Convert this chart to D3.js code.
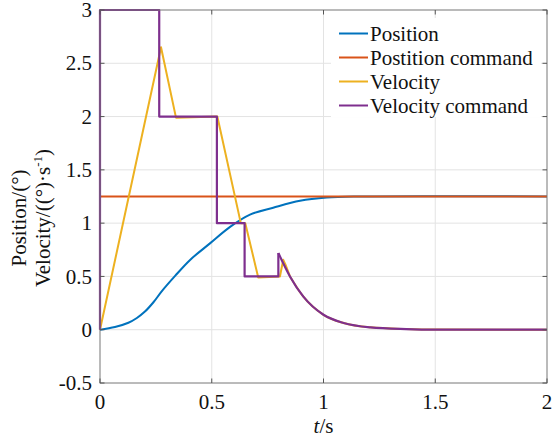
<!DOCTYPE html>
<html>
<head>
<meta charset="utf-8">
<script src="https://cdn.jsdelivr.net/npm/d3@7"></script>
<style>
  body { margin: 0; background: #fff; }
  svg { display: block; }
  svg text { font-family: "Liberation Serif", "Times New Roman", Times, Tinos, "Noto Serif", "DejaVu Serif", serif; }
</style>
</head>
<body>
<svg id="chart" width="557" height="439"></svg>
<script>
// tick values
var xTicks = [0, 0.5, 1, 1.5, 2];
var yTicks = [-0.5, 0, 0.5, 1, 1.5, 2, 2.5, 3];

// position response
var posT = [0, 0.067, 0.127, 0.165, 0.201, 0.24, 0.276, 0.336, 0.403, 0.492, 0.582, 0.671, 0.775, 0.895, 1.014, 1.15, 2];
var posV = [0, 0.025, 0.065, 0.11, 0.17, 0.26, 0.36, 0.505, 0.655, 0.81, 0.965, 1.08, 1.145, 1.21, 1.24, 1.25, 1.25];

// position command
var posCmdT = [0, 2];
var posCmdV = [1.25, 1.25];

// velocity command, stepped part
var velCmdT = [0, 0, 0.265, 0.265, 0.523, 0.523, 0.647, 0.647, 0.798, 0.798];
var velCmdV = [0, 3, 3, 2, 2, 1, 1, 0.5, 0.5, 0.72];

// decaying tail shared by velocity and velocity command
var decayT = [0.798, 0.85, 0.91, 1.0, 1.09, 1.21, 1.37, 1.5, 2];
var decayV = [0.72, 0.5, 0.31, 0.14, 0.063, 0.022, 0.006, 0.001, 0];

// velocity, before it joins the tail
var velT = [0, 0.273, 0.34, 0.525, 0.63, 0.65, 0.708, 0.805, 0.82, 0.832, 0.85];
var velV = [0, 2.65, 1.99, 2, 1, 1, 0.49, 0.5, 0.656, 0.6, 0.5];

var legendNames = ["Position", "Postition command", "Velocity", "Velocity command"];
var colors = ["#0072BD", "#D95319", "#EDB120", "#7E2F8E"];

function pts(ts, vs) {
	return ts.map(function(t, i) { return [t, vs[i]]; });
}

function draw() {
	var svg = d3.select("#chart");
	var left = 100, right = 547, top = 10, bottom = 383;

	var x = d3.scaleLinear().domain([0, 2]).range([left, right]);
	var y = d3.scaleLinear().domain([-0.5, 3]).range([bottom, top]);

	// grid
	svg.append("g").selectAll("line").data(xTicks.slice(1, -1)).enter().append("line")
		.attr("x1", function(d) { return x(d); }).attr("x2", function(d) { return x(d); })
		.attr("y1", top).attr("y2", bottom)
		.style("stroke", "#e3e3e3").style("stroke-width", 1);
	svg.append("g").selectAll("line").data(yTicks.slice(1, -1)).enter().append("line")
		.attr("y1", function(d) { return y(d); }).attr("y2", function(d) { return y(d); })
		.attr("x1", left).attr("x2", right)
		.style("stroke", "#e3e3e3").style("stroke-width", 1);

	var lin = d3.line().x(function(d) { return x(d[0]); }).y(function(d) { return y(d[1]); });
	var smooth = d3.line().curve(d3.curveMonotoneX)
		.x(function(d) { return x(d[0]); }).y(function(d) { return y(d[1]); });
	var soft = d3.line().curve(d3.curveCatmullRom.alpha(0.5))
		.x(function(d) { return x(d[0]); }).y(function(d) { return y(d[1]); });

	var g = svg.append("g").style("fill", "none").style("stroke-linejoin", "round");

	g.append("path").attr("d", soft(pts(posT, posV)))
		.style("stroke", colors[0]).style("stroke-width", 2);
	g.append("path").attr("d", lin(pts(posCmdT, posCmdV)))
		.style("stroke", colors[1]).style("stroke-width", 2);

	// velocity: linear head then the smooth tail
	g.append("path").attr("d", lin(pts(velT, velV)))
		.style("stroke", colors[2]).style("stroke-width", 2);
	g.append("path").attr("d", smooth(pts(decayT.slice(1), decayV.slice(1))))
		.style("stroke", colors[2]).style("stroke-width", 2);

	g.append("path").attr("d", lin(pts(velCmdT, velCmdV)))
		.style("stroke", colors[3]).style("stroke-width", 2.2);
	g.append("path").attr("d", smooth(pts(decayT, decayV)))
		.style("stroke", colors[3]).style("stroke-width", 2.2);

	// box
	svg.append("rect").attr("x", left).attr("y", top)
		.attr("width", right - left).attr("height", bottom - top)
		.style("fill", "none").style("stroke", "#777").style("stroke-width", 1);

	// inward ticks on all sides
	var tk = svg.append("g").style("stroke", "#555").style("stroke-width", 1);
	xTicks.forEach(function(d) {
		tk.append("line").attr("x1", x(d)).attr("x2", x(d)).attr("y1", bottom).attr("y2", bottom - 4.5);
		tk.append("line").attr("x1", x(d)).attr("x2", x(d)).attr("y1", top).attr("y2", top + 4.5);
	});
	yTicks.forEach(function(d) {
		tk.append("line").attr("y1", y(d)).attr("y2", y(d)).attr("x1", left).attr("x2", left + 4.5);
		tk.append("line").attr("y1", y(d)).attr("y2", y(d)).attr("x1", right).attr("x2", right - 4.5);
	});

	var txt = svg.append("g").attr("font-size", 21).attr("fill", "#111");

	// tick labels
	txt.append("g").selectAll("text").data(xTicks).enter().append("text")
		.attr("x", function(d) { return x(d); }).attr("y", 409)
		.attr("text-anchor", "middle")
		.text(function(d) { return d; });
	txt.append("g").selectAll("text").data(yTicks).enter().append("text")
		.attr("x", 92).attr("y", function(d) { return y(d); })
		.attr("dy", "0.34em")
		.attr("text-anchor", "end")
		.text(function(d) { return d; });

	// x label
	var xl = txt.append("text").attr("x", x(1)).attr("y", 433)
		.attr("text-anchor", "middle");
	xl.append("tspan").attr("font-style", "italic").text("t");
	xl.append("tspan").text("/s");

	// y label, two lines
	var yl = txt.append("g").attr("transform", "translate(0,218) rotate(-90)");
	yl.append("text").attr("x", 0).attr("y", 26)
		.attr("text-anchor", "middle")
		.text("Position/(°)");
	var y2 = yl.append("text").attr("x", 0).attr("y", 50)
		.attr("text-anchor", "middle");
	y2.append("tspan").text("Velocity/((°)·s");
	y2.append("tspan").attr("dy", -8).attr("font-size", 13).text("-1");
	y2.append("tspan").attr("dy", 8).text(")");

	// legend
	var lg = txt.append("g");
	lg.append("rect").attr("x", 331).attr("y", 18).attr("width", 210).attr("height", 99)
		.style("fill", "#fff");
	legendNames.forEach(function(name, i) {
		var cy = 33.5 + i * 24;
		lg.append("line").attr("x1", 339).attr("x2", 368).attr("y1", cy).attr("y2", cy)
			.style("stroke", colors[i]).style("stroke-width", 2);
		lg.append("text").attr("x", 370).attr("y", cy).attr("dy", "0.34em")
			.text(name);
	});
}

draw();
</script>
</body>
</html>
